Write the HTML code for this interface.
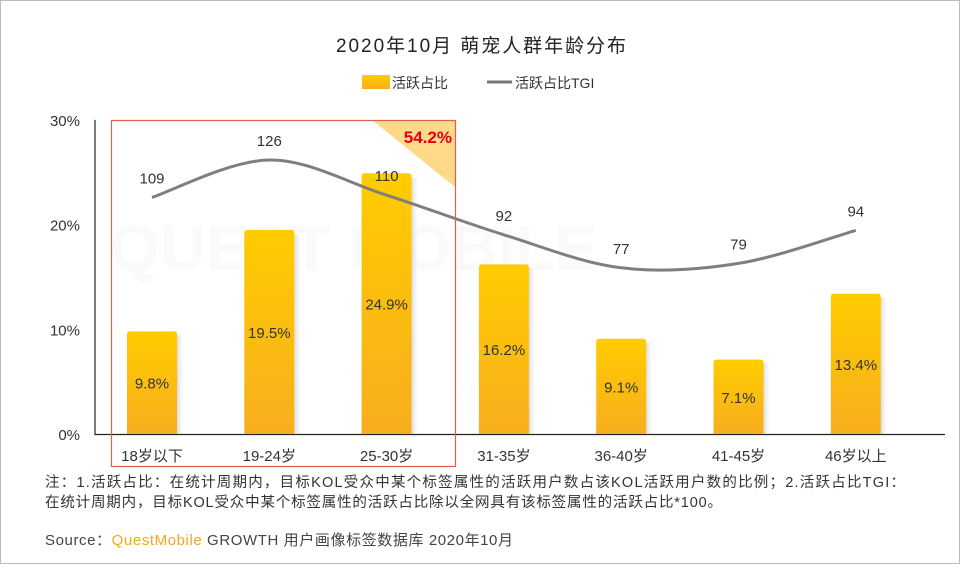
<!DOCTYPE html>
<html><head><meta charset="utf-8"><style>
body{margin:0;background:#fff}
svg text{font-family:"Liberation Sans","Noto Sans CJK SC",sans-serif}
</style></head><body>
<svg width="960" height="564" viewBox="0 0 960 564">
<defs>
<linearGradient id="bg" x1="0" y1="0" x2="0" y2="1"><stop offset="0" stop-color="#ffcc00"/><stop offset="1" stop-color="#f7ae1e"/></linearGradient>
<linearGradient id="sh" x1="0" y1="0" x2="1" y2="0"><stop offset="0" stop-color="#ccc" stop-opacity="0.7"/><stop offset="1" stop-color="#fff" stop-opacity="0"/></linearGradient>
</defs>
<rect x="0.5" y="0.5" width="959" height="563" fill="#fff" stroke="#bbb"/>
<text x="110" y="270" font-size="64" fill="#fafafa" font-weight="bold">QUEST MOBILE</text>
<text x="336" y="52" textLength="290" font-size="19" fill="#222">2020年10月 萌宠人群年龄分布</text>
<g>
<rect x="362" y="75" width="28" height="14" fill="url(#bg)"/>
<text x="392" y="88" font-size="14" fill="#333">活跃占比</text>
<line x1="487" y1="82" x2="512" y2="82" stroke="#777" stroke-width="3"/>
<text x="515" y="88" font-size="14" fill="#333">活跃占比TGI</text>
</g>
<polygon points="372,120 455,120 455,187" fill="#ffd98a"/>
<g id="yax"></g>
<g id="bars"></g>
<g id="line"></g>
<rect x="111.5" y="120.5" width="344" height="346" fill="none" stroke="#e0614a" stroke-width="1.2"/>
<text x="452" y="143" text-anchor="end" font-size="17" font-weight="bold" fill="#e60012">54.2%</text>
<text x="45" y="487" textLength="860" font-size="14.5" fill="#333">注：1.活跃占比：在统计周期内，目标KOL受众中某个标签属性的活跃用户数占该KOL活跃用户数的比例；2.活跃占比TGI：</text>
<text x="45" y="507" textLength="677" font-size="14.5" fill="#333">在统计周期内，目标KOL受众中某个标签属性的活跃占比除以全网具有该标签属性的活跃占比*100。</text>
<text x="45" y="545" textLength="468" font-size="15" fill="#444">Source：<tspan fill="#f5a623">QuestMobile</tspan> GROWTH 用户画像标签数据库 2020年10月</text>
</svg>
<script>
const categories=["18岁以下","19-24岁","25-30岁","31-35岁","36-40岁","41-45岁","46岁以上"];
const shareValues=[9.8,19.5,24.9,16.2,9.1,7.1,13.4];
const tgiValues=[109,126,110,92,77,79,94];
const yTicks=[0,10,20,30];
const NS="http://www.w3.org/2000/svg";
const x0=95,x1=945,step=117.3,bw=50;
const xc=i=>152+step*i;
const ys=v=>434-v*10.47;
const yt=v=>160+(126-v)*2.2;
function mk(t,a,p){const e=document.createElementNS(NS,t);for(const k in a)e.setAttribute(k,a[k]);p.appendChild(e);return e;}
const yax=document.getElementById('yax');
yTicks.forEach(t=>{const e=mk('text',{x:80,y:ys(t)+6,'text-anchor':'end','font-size':15,fill:'#333'},yax);e.textContent=t+'%';

});
const ax=mk('path',{d:`M${x0} ${ys(30)}V${434.5}H${x1}`,fill:'none',stroke:'#222','stroke-width':1.2},yax);


const bars=document.getElementById('bars');
categories.forEach((c,i)=>{
 const v=shareValues[i],x=xc(i)-bw/2,y=ys(v),h=434-y;
 const s=mk('rect',{x:x+bw,y:y+4,width:8,height:h-4,fill:'url(#sh)'},bars);
 
 
 const b=mk('path',{d:`M${x} 434V${y+3}Q${x} ${y} ${x+3} ${y}H${x+bw-3}Q${x+bw} ${y} ${x+bw} ${y+3}V434Z`,fill:'url(#bg)'},bars);
 
 
 const t=mk('text',{x:xc(i),y:y+h/2+6,'text-anchor':'middle','font-size':15,fill:'#333'},bars);t.textContent=v.toFixed(1)+'%';
 
 
 const l=mk('text',{x:xc(i),y:461,'text-anchor':'middle','font-size':15,fill:'#333'},bars);l.textContent=c;
 
 
});
const line=document.getElementById('line');
const pts=tgiValues.map((v,i)=>[xc(i),yt(v)]);
let d=`M${pts[0][0]} ${pts[0][1]}`;
for(let i=0;i<pts.length-1;i++){const p0=pts[i-1]||pts[i],p1=pts[i],p2=pts[i+1],p3=pts[i+2]||p2;
 d+=`C${p1[0]+(p2[0]-p0[0])/6} ${p1[1]+(p2[1]-p0[1])/6} ${p2[0]-(p3[0]-p1[0])/6} ${p2[1]-(p3[1]-p1[1])/6} ${p2[0]} ${p2[1]}`;}
const pl=mk('path',{d,fill:'none',stroke:'#7f7f7f','stroke-width':3},line);


tgiValues.forEach((v,i)=>{const t=mk('text',{x:xc(i),y:yt(v)-14,'text-anchor':'middle','font-size':15,fill:'#333'},line);t.textContent=v;
 
 });
</script>
</body></html>
